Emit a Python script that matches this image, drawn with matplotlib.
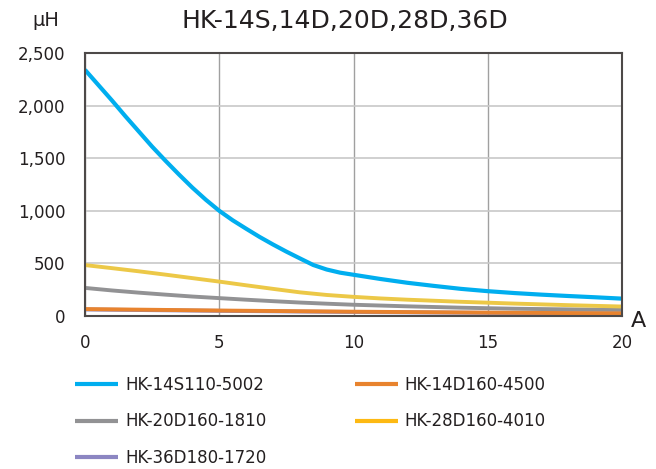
import matplotlib
matplotlib.use("Agg")
import matplotlib.pyplot as plt

title = "HK-14S,14D,20D,28D,36D"
series_names = ["HK-14S110-5002", "HK-14D160-4500", "HK-20D160-1810",
                "HK-28D160-4010", "HK-36D180-1720"]

x_blue = [0, 0.5, 1, 1.5, 2, 2.5, 3, 3.5, 4, 4.5, 5, 5.5, 6, 6.5, 7, 7.5, 8, 8.5, 9,
          9.5, 10, 11, 12, 13, 14, 15, 16, 17, 18, 19, 20]
y_blue = [2340, 2195, 2050, 1900, 1755, 1610, 1475, 1345, 1220, 1105, 1000, 910, 830,
          752, 680, 612, 548, 485, 442, 412, 392, 352, 316, 286, 258, 236, 218, 203,
          190, 178, 165]

x_orange = [0, 5, 10, 15, 20]
y_orange = [66, 52, 41, 32, 25]

x_gray = [0, 1, 2, 3, 4, 5, 6, 7, 8, 9, 10, 12, 14, 16, 18, 20]
y_gray = [267, 243, 222, 203, 185, 170, 155, 141, 128, 117, 107, 92, 79, 69, 63, 58]

x_yellow = [0, 1, 2, 3, 4, 5, 6, 7, 8, 9, 10, 11, 12, 14, 16, 18, 20]
y_yellow = [484, 455, 425, 393, 360, 327, 292, 258, 225, 200, 182, 167, 155, 135, 118, 103, 90]

x_purple = [0, 5, 10, 15, 20]
y_purple = [62, 49, 38, 30, 23]

x_ticks = [0, 5, 10, 15, 20]
y_ticks = [0, 500, 1000, 1500, 2000, 2500]
y_ticklabels = ["0", "500", "1,000", "1,500", "2,000", "2,500"]

line_colors = ["#00AEEF", "#E8832E", "#929294", "#ECC847", "#8C86C2"]
legend_colors = ["#00AEEF", "#E8832E", "#929294", "#FDB913", "#8C86C2"]

fig = plt.figure(figsize=(6.56, 4.69), dpi=100)
ax = fig.add_axes([85/656, 1-316/469, (622-85)/656, (316-53)/469])

handles = {}
handles[4], = ax.plot(x_purple, y_purple, color=line_colors[4], lw=2.8, solid_capstyle="butt")
handles[2], = ax.plot(x_gray, y_gray, color=line_colors[2], lw=2.8, solid_capstyle="butt")
handles[3], = ax.plot(x_yellow, y_yellow, color=line_colors[3], lw=2.8, solid_capstyle="butt")
handles[1], = ax.plot(x_orange, y_orange, color=line_colors[1], lw=2.8, solid_capstyle="butt")
handles[0], = ax.plot(x_blue, y_blue, color=line_colors[0], lw=3.0, solid_capstyle="butt",
                      solid_joinstyle="round")

ax.set_xlim(0, 20)
ax.set_ylim(0, 2500)
ax.set_xticks(x_ticks)
ax.set_yticks(y_ticks)
ax.set_yticklabels(y_ticklabels)
ax.tick_params(length=0, labelsize=12, colors="#231F20")
ax.tick_params(axis="x", pad=13)
ax.tick_params(axis="y", pad=14)
ax.xaxis.grid(True, color="#A0A0A0", lw=1.0)
ax.yaxis.grid(True, color="#C8C8C8", lw=1.2)
ax.set_axisbelow(True)
for s in ax.spines.values():
    s.set_color("#4D4948")
    s.set_linewidth(1.5)

fig.text(345/656, 1-21/469, title, ha="center", va="center", fontsize=18, color="#231F20")
fig.text(46/656, 1-21/469, "μH", ha="center", va="center", fontsize=14, color="#231F20")
fig.text(638/656, 1-321/469, "A", ha="center", va="center", fontsize=16, color="#231F20")

order = [0, 2, 4, 1, 3]
leg = fig.legend([handles[i] for i in order], [series_names[i] for i in order],
                 ncol=2, loc="upper left", bbox_to_anchor=(60/656, 1-361/469),
                 frameon=False, fontsize=12, handlelength=2.6, handletextpad=0.4,
                 columnspacing=5.3, labelspacing=1.1, labelcolor="#231F20")
for ln, i in zip(leg.get_lines(), order):
    ln.set_color(legend_colors[i])
    ln.set_linewidth(3.0)

fig.savefig("out.png", dpi=100)
